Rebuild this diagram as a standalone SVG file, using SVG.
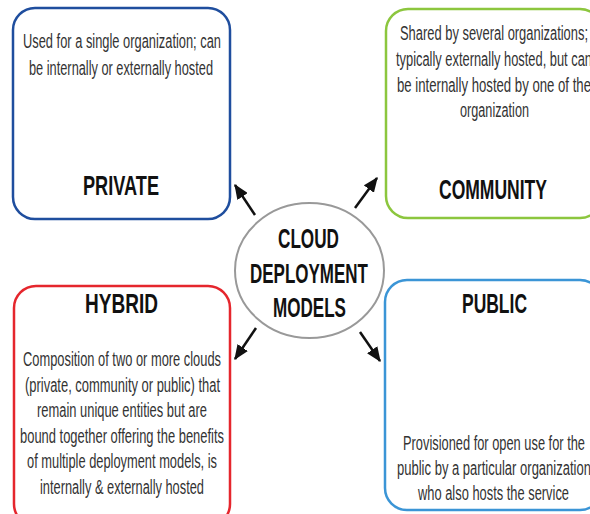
<svg xmlns="http://www.w3.org/2000/svg" width="590" height="514" viewBox="0 0 590 514">
<defs>
<style>
.box{fill:#fff;stroke-width:2.5}
.body{font-family:"Liberation Sans Narrow","Liberation Sans",Arial,sans-serif;font-size:20px;fill:#333;text-anchor:middle}
.title{font-family:"Liberation Sans Narrow","Liberation Sans",Arial,sans-serif;font-size:28px;font-weight:bold;fill:#111;text-anchor:middle}
.conn{stroke:#111;stroke-width:2.5;fill:none}
</style>
<marker id="ah" viewBox="0 0 12 10" refX="11" refY="5" markerWidth="6" markerHeight="5" markerUnits="strokeWidth" orient="auto">
<path d="M0,0 L12,5 L0,10 z" fill="#111"/>
</marker>
</defs>
<rect width="590" height="514" fill="#fff"/>
<g id="private">
<rect class="box" x="13" y="8" width="217" height="211" rx="22" stroke="#1f4e9e"/>
<text class="body" x="122" y="48" textLength="198" lengthAdjust="spacingAndGlyphs">Used for a single organization; can</text>
<text class="body" x="121" y="75" textLength="184" lengthAdjust="spacingAndGlyphs">be internally or externally hosted</text>
<text class="title" x="121" y="195" textLength="76" lengthAdjust="spacingAndGlyphs">PRIVATE</text>
</g>
<g id="community">
<rect class="box" x="386" y="9" width="216" height="209" rx="22" stroke="#8cc63e"/>
<text class="body" x="494" y="40" textLength="188" lengthAdjust="spacingAndGlyphs">Shared by several organizations;</text>
<text class="body" x="494" y="66" textLength="196" lengthAdjust="spacingAndGlyphs">typically externally hosted, but can</text>
<text class="body" x="494" y="92" textLength="194" lengthAdjust="spacingAndGlyphs">be internally hosted by one of the</text>
<text class="body" x="494.5" y="117" textLength="69" lengthAdjust="spacingAndGlyphs">organization</text>
<text class="title" x="493" y="199" textLength="108" lengthAdjust="spacingAndGlyphs">COMMUNITY</text>
</g>
<g id="hybrid">
<rect class="box" x="14" y="286" width="216" height="240" rx="22" stroke="#e5262d"/>
<text class="title" x="121.5" y="313" textLength="73" lengthAdjust="spacingAndGlyphs">HYBRID</text>
<text class="body" x="122" y="366" textLength="198" lengthAdjust="spacingAndGlyphs">Composition of two or more clouds</text>
<text class="body" x="122.5" y="391.5" textLength="195" lengthAdjust="spacingAndGlyphs">(private, community or public) that</text>
<text class="body" x="122" y="417" textLength="170" lengthAdjust="spacingAndGlyphs">remain unique entities but are</text>
<text class="body" x="122" y="442.5" textLength="204" lengthAdjust="spacingAndGlyphs">bound together offering the benefits</text>
<text class="body" x="122" y="468" textLength="190" lengthAdjust="spacingAndGlyphs">of multiple deployment models, is</text>
<text class="body" x="122" y="493.5" textLength="164" lengthAdjust="spacingAndGlyphs">internally &amp; externally hosted</text>
</g>
<g id="public">
<rect class="box" x="385" y="280" width="217" height="230" rx="22" stroke="#3b95d6"/>
<text class="title" x="494.5" y="313" textLength="65" lengthAdjust="spacingAndGlyphs">PUBLIC</text>
<text class="body" x="494" y="450" textLength="182" lengthAdjust="spacingAndGlyphs">Provisioned for open use for the</text>
<text class="body" x="494" y="475" textLength="194" lengthAdjust="spacingAndGlyphs">public by a particular organization</text>
<text class="body" x="493.5" y="500" textLength="151" lengthAdjust="spacingAndGlyphs">who also hosts the service</text>
</g>
<g id="center">
<ellipse cx="309.5" cy="270.5" rx="74.5" ry="67.5" fill="#fff" stroke="#999" stroke-width="2"/>
<text class="title" x="308.5" y="248" font-size="25" textLength="61" lengthAdjust="spacingAndGlyphs">CLOUD</text>
<text class="title" x="309" y="283" font-size="25" textLength="118" lengthAdjust="spacingAndGlyphs">DEPLOYMENT</text>
<text class="title" x="309.5" y="317" font-size="25" textLength="73" lengthAdjust="spacingAndGlyphs">MODELS</text>
</g>
<g id="connectors">
<line class="conn" x1="255" y1="215" x2="235" y2="185" marker-end="url(#ah)"/>
<line class="conn" x1="355" y1="208" x2="377" y2="178" marker-end="url(#ah)"/>
<line class="conn" x1="256" y1="328" x2="235" y2="359" marker-end="url(#ah)"/>
<line class="conn" x1="360" y1="332" x2="380" y2="361" marker-end="url(#ah)"/>
</g>
</svg>
